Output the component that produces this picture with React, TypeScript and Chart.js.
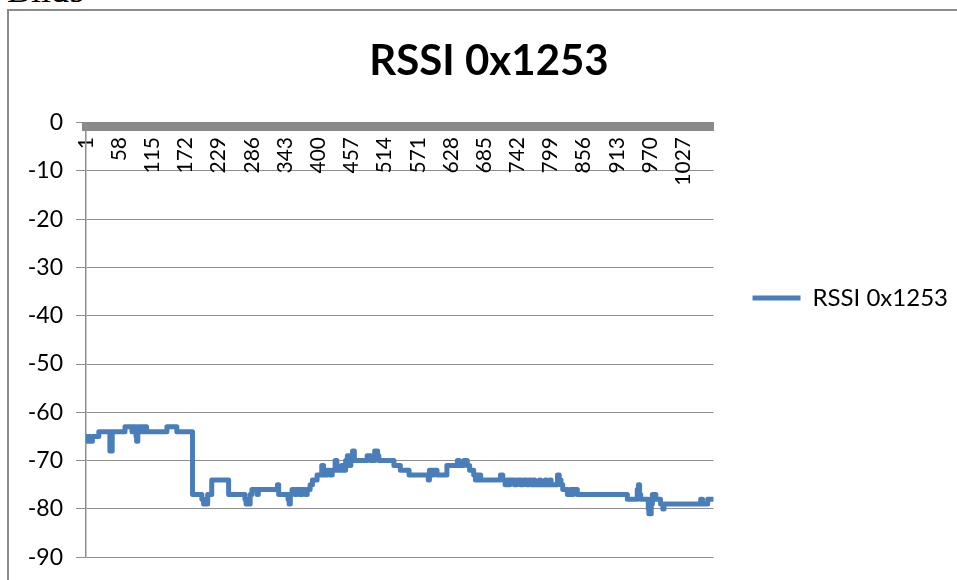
import React, { useEffect, useRef } from 'react';
import { Chart, registerables } from 'chart.js';

Chart.register(...registerables);

// ---- data ----
const chartTitle = 'RSSI 0x1253';
const seriesLabel = 'RSSI 0x1253';
const captionText = 'Bild9';
const sampleCount = 1079;
const xTickLabels = [1, 58, 115, 172, 229, 286, 343, 400, 457, 514, 571, 628, 685, 742, 799, 856, 913, 970, 1027];
const yMin = -90;
const yMax = 0;
const yStep = 10;

// sample number at which the RSSI level changes, and the level from there on
const changeAt = [
  1, 3, 6, 9, 12, 23, 42, 46, 68, 80, 82, 87, 88, 90, 95, 97, 100, 102, 105, 140,
  157, 184, 200, 203, 206, 208, 210, 217, 246, 274, 276, 279, 281, 283, 286, 295, 297, 330, 332, 348,
  350, 352, 355, 360, 363, 368, 372, 378, 381, 386, 390, 398, 406, 409, 415, 420, 424, 429, 432, 440,
  443, 447, 450, 453, 456, 459, 462, 484, 490, 497, 502, 504, 530, 541, 556, 589, 591, 596, 598, 604,
  621, 639, 642, 650, 656, 660, 667, 670, 672, 675, 677, 679, 713, 717, 721, 724, 727, 729, 737, 741,
  748, 752, 758, 762, 766, 770, 772, 780, 782, 790, 792, 798, 800, 811, 814, 817, 820, 828, 833, 836,
  838, 845, 931, 948, 950, 952, 954, 967, 968, 972, 974, 980, 988, 992, 994, 1057, 1060, 1069, 1079,
];
const rssiLevel = [
  -65, -66, -65, -66, -65, -64, -68, -64, -63, -64, -63, -65, -66, -63, -64, -63, -64, -63, -64, -63,
  -64, -77, -78, -79, -78, -79, -77, -74, -77, -78, -79, -78, -79, -77, -76, -77, -76, -75, -77, -78,
  -79, -77, -76, -77, -76, -77, -76, -77, -76, -75, -74, -73, -71, -73, -72, -73, -72, -70, -72, -71,
  -72, -70, -69, -71, -70, -68, -70, -69, -70, -68, -69, -70, -71, -72, -73, -74, -72, -73, -72, -73,
  -71, -70, -71, -70, -71, -72, -73, -74, -73, -74, -73, -74, -73, -74, -75, -74, -75, -74, -75, -74,
  -75, -74, -75, -74, -75, -74, -75, -74, -75, -74, -75, -74, -75, -73, -74, -75, -76, -77, -76, -77,
  -76, -77, -78, -76, -75, -77, -78, -80, -81, -79, -77, -78, -79, -80, -79, -78, -79, -78, -78,
];

const FONT = 'Lato, "Open Sans", sans-serif';
const LINE_COLOR = '#4a7ebb';
const GRID_COLOR = '#8e8e8e';
const AXIS_BAR_COLOR = '#8a8a8a';
const TEXT_COLOR = '#000';

export default function App() {
  const canvasRef = useRef<HTMLCanvasElement>(null);

  useEffect(() => {
    const canvas = canvasRef.current;
    if (!canvas) return;
    const points = changeAt.map((x, i) => ({ x, y: rssiLevel[i] }));

    const chart = new Chart(canvas, {
      type: 'line',
      data: {
        datasets: [
          {
            label: seriesLabel,
            data: points,
            stepped: 'before',
            borderColor: LINE_COLOR,
            backgroundColor: LINE_COLOR,
            borderWidth: 5,
            borderJoinStyle: 'round',
            borderCapStyle: 'round',
            pointRadius: 0,
            pointHoverRadius: 0,
            fill: false,
          },
        ],
      },
      options: {
        responsive: false,
        animation: false,
        devicePixelRatio: 1,
        layout: { padding: { left: 10, right: 14, top: 0, bottom: 0 } },
        plugins: {
          tooltip: { enabled: false },
          title: {
            display: true,
            text: chartTitle,
            color: TEXT_COLOR,
            font: { family: FONT, size: 42, weight: 'bold' },
            padding: { top: 24, bottom: 36.2 },
          },
          legend: {
            display: true,
            position: 'right',
            maxWidth: 400,
            labels: {
              usePointStyle: true,
              pointStyle: 'line',
              pointStyleWidth: 48,
              padding: 39,
              color: TEXT_COLOR,
              font: { family: FONT, size: 24 },
            },
          },
        },
        scales: {
          x: {
            type: 'linear',
            axis: 'x',
            position: { y: -0.9 },
            min: 1,
            max: sampleCount,
            afterFit: (scale: any) => {
              scale.height = 0;
            },
            afterBuildTicks: (scale: any) => {
              scale.ticks = xTickLabels.map((v) => ({ value: v }));
            },
            ticks: {
              autoSkip: false,
              minRotation: 90,
              maxRotation: 90,
              padding: 10,
              color: TEXT_COLOR,
              font: { family: FONT, size: 21 },
              callback: (v: any) => String(v),
            },
            grid: { display: false, drawTicks: false, tickLength: 0 },
            border: { display: true, width: 9, color: AXIS_BAR_COLOR },
          },
          y: {
            type: 'linear',
            position: 'left',
            min: yMin,
            max: yMax,
            afterFit: (scale: any) => {
              scale.width = 66;
            },
            ticks: {
              stepSize: yStep,
              padding: 13,
              color: TEXT_COLOR,
              font: { family: FONT, size: 23 },
              callback: (v: any) => String(v),
            },
            grid: { color: GRID_COLOR, lineWidth: 1, tickLength: 10, drawTicks: true },
            border: { display: true, color: GRID_COLOR, width: 1.5 },
          },
        },
      } as any,
    });
    return () => chart.destroy();
  }, []);

  return (
    <div
      style={{
        position: 'fixed',
        left: 0,
        top: 0,
        width: 957,
        height: 580,
        overflow: 'hidden',
        background: '#fff',
      }}
    >
      <div
        style={{
          position: 'absolute',
          left: 7,
          top: -28,
          fontFamily: '"Liberation Serif", "Times New Roman", serif',
          fontSize: 36,
          lineHeight: '36px',
          color: '#000',
          whiteSpace: 'nowrap',
        }}
      >
        {captionText}
      </div>
      <div
        style={{
          position: 'absolute',
          left: 7,
          top: 9,
          width: 1000,
          height: 700,
          border: '2px solid #8c8c8c',
          boxSizing: 'border-box',
        }}
      />
      <canvas
        ref={canvasRef}
        width={962}
        height={572}
        style={{ position: 'absolute', left: 10, top: 12, width: 962, height: 572 }}
      />
    </div>
  );
}
